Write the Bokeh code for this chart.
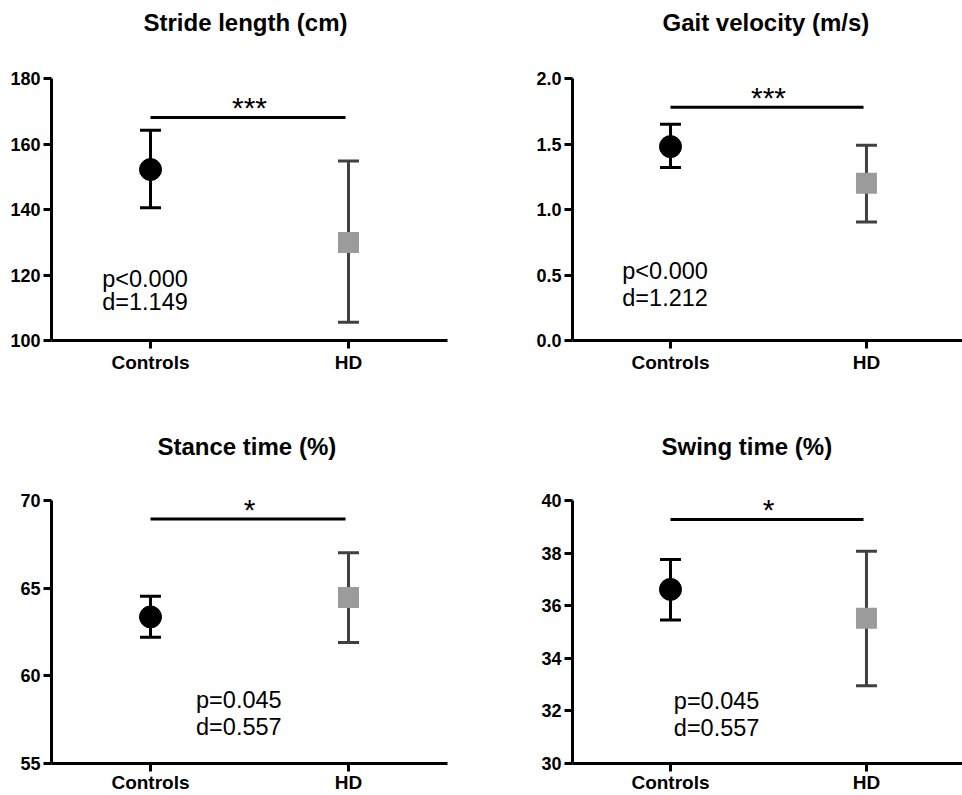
from bokeh.plotting import figure
from bokeh.layouts import column, row
from bokeh.models import Range1d, FixedTicker, Label, PrintfTickFormatter
from bokeh.embed import file_html
from bokeh.resources import INLINE
from bokeh.core.properties import value

# ---------------- data ----------------
groups = ["Controls", "HD"]
group_pos = [0, 1]

titles = ["Stride length (cm)", "Gait velocity (m/s)", "Stance time (%)", "Swing time (%)"]

stride_mean = [152.2, 129.9]
stride_lower = [140.5, 105.6]
stride_upper = [164.2, 154.8]

velocity_mean = [1.48, 1.20]
velocity_lower = [1.32, 0.905]
velocity_upper = [1.65, 1.49]

stance_mean = [63.36, 64.47]
stance_lower = [62.2, 61.9]
stance_upper = [64.54, 67.02]

swing_mean = [36.62, 35.52]
swing_lower = [35.46, 32.96]
swing_upper = [37.76, 38.07]

stride_ticks = [100, 120, 140, 160, 180]
velocity_ticks = [0.0, 0.5, 1.0, 1.5, 2.0]
stance_ticks = [55, 60, 65, 70]
swing_ticks = [30, 32, 34, 36, 38, 40]

sig_level = [168.1, 1.78, 68.94, 39.28]
sig_stars = ["***", "***", "*", "*"]
p_texts = ["p<0.000", "p<0.000", "p=0.045", "p=0.045"]
d_texts = ["d=1.149", "d=1.212", "d=0.557", "d=0.557"]

# ---------------- layout / style constants ----------------
FONT = "Liberation Sans"
text_pos = [(-0.244, 118.7, 111.7), (-0.246, 0.529, 0.325), (0.23, 58.63, 57.1), (0.017, 32.36, 31.36)]
title_offsets = [92, 90, 106, 89]


def make_panel(i, mean, lower, upper, ticks, left_col, top_row, fmt=None):
    if left_col:
        width, mbl, mbr, xr = 457, 51, 10, (-0.5, 1.5)
    else:
        width, mbl, mbr, xr = 505, 115, 0, (-0.5, 1.49)
    if top_row:
        height, mbb, pad_px, axis_px, rise_px, x_standoff = 380, 40, 78, 262, 56, 3
    else:
        height, mbb, pad_px, axis_px, rise_px, x_standoff = 415, 32, 120, 263, 54, 0
    lo, hi = ticks[0], ticks[-1]
    per_px = (hi - lo) / axis_px
    y_end = hi + pad_px * per_px
    p = figure(width=width, height=height, output_backend="svg", toolbar_location=None, title=None,
               x_range=Range1d(*xr), y_range=Range1d(lo, y_end),
               min_border_left=mbl, min_border_right=mbr, min_border_top=0, min_border_bottom=mbb)
    p.outline_line_color = None
    p.xgrid.visible = False
    p.ygrid.visible = False
    p.background_fill_color = "white"
    p.border_fill_color = "white"

    # panel title (drawn inside the tall frame, above the axis top)
    p.text(x=[xr[0]], y=[hi + rise_px * per_px], text=[titles[i]], x_offset=title_offsets[i],
           text_align="left", text_baseline="middle", text_font=value(FONT),
           text_font_size="24px", text_font_style="bold", text_color="black")

    for ax in (p.xaxis[0], p.yaxis[0]):
        ax.axis_line_width = 3
        ax.axis_line_color = "black"
        ax.major_tick_line_width = 3
        ax.major_tick_line_color = "black"
        ax.major_tick_out = 8
        ax.major_tick_in = 0
        ax.minor_tick_line_color = None
        ax.major_label_text_font = FONT
        ax.major_label_text_font_style = "bold"
        ax.major_label_text_color = "black"
    p.xaxis.major_label_text_font_size = "19px"
    p.yaxis.major_label_text_font_size = "18px"
    p.xaxis.ticker = FixedTicker(ticks=group_pos)
    p.xaxis.major_label_overrides = {0: groups[0], 1: groups[1]}
    p.xaxis.major_label_standoff = x_standoff
    p.yaxis.ticker = FixedTicker(ticks=ticks)
    p.yaxis.bounds = (lo, hi)
    p.yaxis.major_label_standoff = 3
    if fmt is not None:
        p.yaxis.formatter = fmt

    # error bars
    colors = ["black", "#404040"]
    for j in range(2):
        p.segment(x0=[group_pos[j]], y0=[lower[j]], x1=[group_pos[j]], y1=[upper[j]],
                  line_width=3, line_color=colors[j])
        p.scatter(x=[group_pos[j], group_pos[j]], y=[lower[j], upper[j]], marker="dash",
                  size=21, line_width=3, line_color=colors[j])
    p.scatter(x=[group_pos[0]], y=[mean[0]], marker="circle", size=22,
              fill_color="black", line_color="black")
    p.scatter(x=[group_pos[1]], y=[mean[1]], marker="square", size=21,
              fill_color="#9b9b9b", line_color=None)

    # significance bar
    p.segment(x0=[group_pos[0]], y0=[sig_level[i]], x1=[group_pos[1] - 0.015], y1=[sig_level[i]],
              line_width=3, line_color="black")
    p.add_layout(Label(x=0.5, y=sig_level[i], text=sig_stars[i], text_align="center",
                       text_baseline="alphabetic", y_offset=10, text_font=FONT,
                       text_font_size="30px", text_color="black"))

    tx, ty_p, ty_d = text_pos[i]
    p.text(x=[tx, tx], y=[ty_p, ty_d], text=[p_texts[i], d_texts[i]], text_align="left",
           text_baseline="middle", text_font=value(FONT), text_font_size="23.5px", text_color="black")
    return p


p1 = make_panel(0, stride_mean, stride_lower, stride_upper, stride_ticks, True, True)
p2 = make_panel(1, velocity_mean, velocity_lower, velocity_upper, velocity_ticks, False, True,
                PrintfTickFormatter(format="%.1f"))
p3 = make_panel(2, stance_mean, stance_lower, stance_upper, stance_ticks, True, False)
p4 = make_panel(3, swing_mean, swing_lower, swing_upper, swing_ticks, False, False)

layout = column(row(p1, p2), row(p3, p4))
open("out.html", "w").write(file_html(layout, INLINE))
